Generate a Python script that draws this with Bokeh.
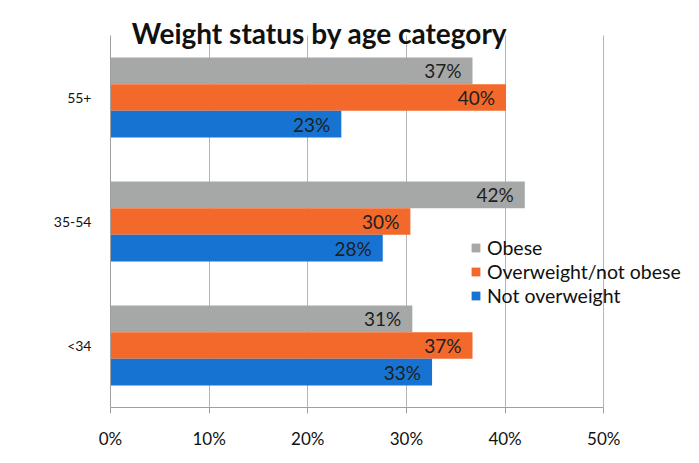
from bokeh.plotting import figure
from bokeh.models import (ColumnDataSource, Range1d, FixedTicker,
                          LabelSet, Label, Legend, LegendItem)
from bokeh.core.properties import value
from bokeh.embed import file_html
from bokeh.resources import INLINE

# ---- data ----
categories = ["<34", "35-54", "55+"]
obese = [30.6, 42.0, 36.7]
overweight = [36.7, 30.4, 40.1]
not_overweight = [32.6, 27.6, 23.4]
x_ticks = [0, 10, 20, 30, 40, 50]
x_tick_labels = ["0%", "10%", "20%", "30%", "40%", "50%"]
series_names = ["Obese", "Overweight/not obese", "Not overweight"]
colors = ["#a6a8a7", "#f3692b", "#1673d2"]
title_text = "Weight status by age category"

FONT = "Lato"

n_cat = len(categories)
cat_pos = [i + 0.5 for i in range(n_cat)]
top_pad = 35 / 124.0  # extra room above the category bands for the title

p = figure(width=698, height=462, output_backend="svg", toolbar_location=None,
           y_range=Range1d(0, n_cat + top_pad), x_range=Range1d(0, 58.8),
           min_border_left=110, min_border_right=8, min_border_top=0,
           min_border_bottom=55)
p.outline_line_color = None
p.background_fill_color = "white"
p.border_fill_color = "white"

bw = 0.215
offsets = [bw, 0.0, -bw]
series_vals = [obese, overweight, not_overweight]
renderers = []
for name, vals, col, off in zip(series_names, series_vals, colors, offsets):
    src = ColumnDataSource(dict(y=[c + off for c in cat_pos], val=vals,
                                lab=["%d%%" % round(v) for v in vals]))
    r = p.hbar(y="y", right="val", left=0, height=bw, source=src,
               fill_color=col, line_color=None)
    renderers.append(r)
    labels = LabelSet(x="val", y="y", text="lab", source=src,
                      text_align="right", text_baseline="middle",
                      x_offset=-11, text_font=value(FONT),
                      text_font_size=value("19px"),
                      text_color=value("#1e1e1e"))
    p.add_layout(labels)

# axes
p.xaxis.ticker = FixedTicker(ticks=x_ticks)
p.xaxis.major_label_overrides = {t: l for t, l in zip(x_ticks, x_tick_labels)}
p.xaxis.bounds = (0, 50)
p.xaxis.axis_line_color = "#a0a0a0"
p.xaxis.major_tick_line_color = "#a0a0a0"
p.xaxis.major_tick_out = 6
p.xaxis.major_tick_in = 0
p.xaxis.minor_tick_line_color = None
p.xaxis.major_label_text_font = FONT
p.xaxis.major_label_text_font_size = "17px"
p.xaxis.major_label_text_color = "#111111"
p.xaxis.major_label_standoff = 14

p.yaxis.ticker = FixedTicker(ticks=cat_pos)
p.yaxis.major_label_overrides = {c: l for c, l in zip(cat_pos, categories)}
p.yaxis.bounds = (0, n_cat)
p.yaxis.axis_line_color = "#a0a0a0"
p.yaxis.major_tick_line_color = None
p.yaxis.major_tick_out = 0
p.yaxis.major_tick_in = 0
p.yaxis.minor_tick_line_color = None
p.yaxis.major_label_text_font = FONT
p.yaxis.major_label_text_font_size = "14px"
p.yaxis.major_label_text_color = "#111111"
p.yaxis.major_label_standoff = 19

p.xgrid.ticker = FixedTicker(ticks=x_ticks)
p.xgrid.bounds = (0, 50)
p.xgrid.cross_bounds = (0, n_cat)
p.xgrid.grid_line_color = "#b4b4b4"
p.ygrid.grid_line_color = None

# title
p.add_layout(Label(x=209, y=375, x_units="screen", y_units="screen",
                   text=title_text, text_align="center", text_baseline="middle",
                   text_font=FONT, text_font_size="28px", text_font_style="bold",
                   text_color="#111111"))

legend = Legend(items=[LegendItem(label=n, renderers=[r])
                       for n, r in zip(series_names, renderers)],
                location=(360, 100), orientation="vertical",
                glyph_width=11, glyph_height=11, label_text_font=FONT,
                label_text_font_size="19.5px", label_text_color="#111111",
                label_standoff=6, spacing=1, padding=0, margin=0,
                border_line_color=None, background_fill_alpha=0)
p.add_layout(legend, "center")

open("out.html", "w").write(file_html(p, INLINE))
